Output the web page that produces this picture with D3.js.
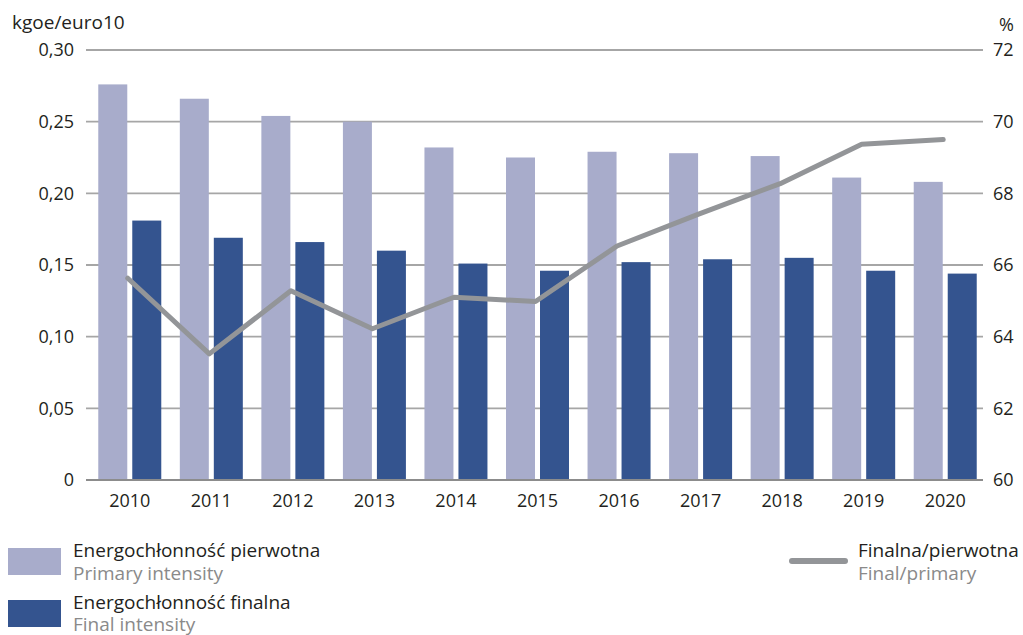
<!DOCTYPE html>
<html><head><meta charset="utf-8">
<script src="https://cdn.jsdelivr.net/npm/d3@7/dist/d3.min.js"></script>
<style>
body{margin:0;background:#fff;}
text{font-family:"Open Sans",sans-serif;}
</style></head><body>
<svg id="c" width="1023" height="635"></svg>
<script>
const years = ["2010","2011","2012","2013","2014","2015","2016","2017","2018","2019","2020"];
const primary = [0.276,0.266,0.254,0.250,0.232,0.225,0.229,0.228,0.226,0.211,0.208];
const finalI = [0.181,0.169,0.166,0.160,0.151,0.146,0.152,0.154,0.155,0.146,0.144];
const ratio = [65.63,63.52,65.28,64.22,65.10,64.98,66.53,67.42,68.27,69.37,69.50];
const leftTicks = [0,0.05,0.10,0.15,0.20,0.25,0.30];
const rightTicks = [60,62,64,66,68,70,72];

const svg = d3.select("#c");
const L=86, R=983, T=50, B=480;
const x = d3.scaleBand().domain(years).range([89,986]);
const y = d3.scaleLinear().domain([0,0.30]).range([B,T]);
const y2 = d3.scaleLinear().domain([60,72]).range([B,T]);
const fmt = v => v===0 ? "0" : d3.format(".2f")(v).replace(".",",");

// gridlines
svg.append("g").selectAll("line").data(leftTicks.filter(d=>d>0)).join("line")
  .attr("x1",L).attr("x2",R).attr("y1",d=>y(d)).attr("y2",d=>y(d))
  .attr("stroke","#a6a6a6").attr("stroke-width",1.8);

// bars
const bw = 29, gap = 5;
const g = svg.append("g");
g.selectAll(".p").data(years).join("rect")
  .attr("x",(d)=>x(d)+x.bandwidth()/2-gap/2-bw).attr("width",bw)
  .attr("y",(d,i)=>y(primary[i])).attr("height",(d,i)=>B-y(primary[i]))
  .attr("fill","#a8accb");
g.selectAll(".f").data(years).join("rect")
  .attr("x",(d)=>x(d)+x.bandwidth()/2+gap/2).attr("width",bw)
  .attr("y",(d,i)=>y(finalI[i])).attr("height",(d,i)=>B-y(finalI[i]))
  .attr("fill","#34548f");

// zero axis
svg.append("line").attr("x1",L).attr("x2",R).attr("y1",B).attr("y2",B)
  .attr("stroke","#8c8c8c").attr("stroke-width",2);

// line
const line = d3.line().x((d,i)=>x(years[i])+x.bandwidth()/2-2).y(d=>y2(d));
svg.append("path").datum(ratio).attr("d",line).attr("fill","none")
  .attr("stroke","#939598").attr("stroke-width",5).attr("stroke-linecap","round").attr("stroke-linejoin","round");

// left axis labels
svg.append("g").selectAll("text").data(leftTicks).join("text")
  .attr("x",74).attr("y",d=>y(d)).attr("dy","0.35em").attr("text-anchor","end")
  .attr("font-size",18).attr("fill","#231f20").text(fmt);
// right axis labels
svg.append("g").selectAll("text").data(rightTicks).join("text")
  .attr("x",993).attr("y",d=>y2(d)).attr("dy","0.35em").attr("text-anchor","start")
  .attr("font-size",18).attr("fill","#231f20").text(d=>d);
// x labels
svg.append("g").selectAll("text").data(years).join("text")
  .attr("x",d=>x(d)+x.bandwidth()/2).attr("y",507).attr("text-anchor","middle")
  .attr("font-size",18).attr("fill","#231f20").text(d=>d);

// axis titles
svg.append("text").attr("x",12).attr("y",29).attr("font-size",19).attr("fill","#231f20").text("kgoe/euro10");
svg.append("text").attr("x",999).attr("y",31).attr("font-size",18).attr("fill","#231f20").text("%");

// legend
const leg = svg.append("g");
leg.append("rect").attr("x",8).attr("y",548).attr("width",53).attr("height",27).attr("fill","#a8accb");
leg.append("rect").attr("x",8).attr("y",600).attr("width",53).attr("height",27).attr("fill","#34548f");
leg.append("text").attr("x",73).attr("y",557).attr("font-size",19).attr("fill","#231f20").text("Energochłonność pierwotna");
leg.append("text").attr("x",73).attr("y",580).attr("font-size",19).attr("fill","#8a8a8a").text("Primary intensity");
leg.append("text").attr("x",73).attr("y",609).attr("font-size",19).attr("fill","#231f20").text("Energochłonność finalna");
leg.append("text").attr("x",73).attr("y",631).attr("font-size",19).attr("fill","#8a8a8a").text("Final intensity");
leg.append("line").attr("x1",792).attr("x2",845).attr("y1",561).attr("y2",561)
  .attr("stroke","#939598").attr("stroke-width",6).attr("stroke-linecap","round");
leg.append("text").attr("x",858).attr("y",557).attr("font-size",19).attr("fill","#231f20").text("Finalna/pierwotna");
leg.append("text").attr("x",858).attr("y",580).attr("font-size",19).attr("fill","#8a8a8a").text("Final/primary");
</script></body></html>
